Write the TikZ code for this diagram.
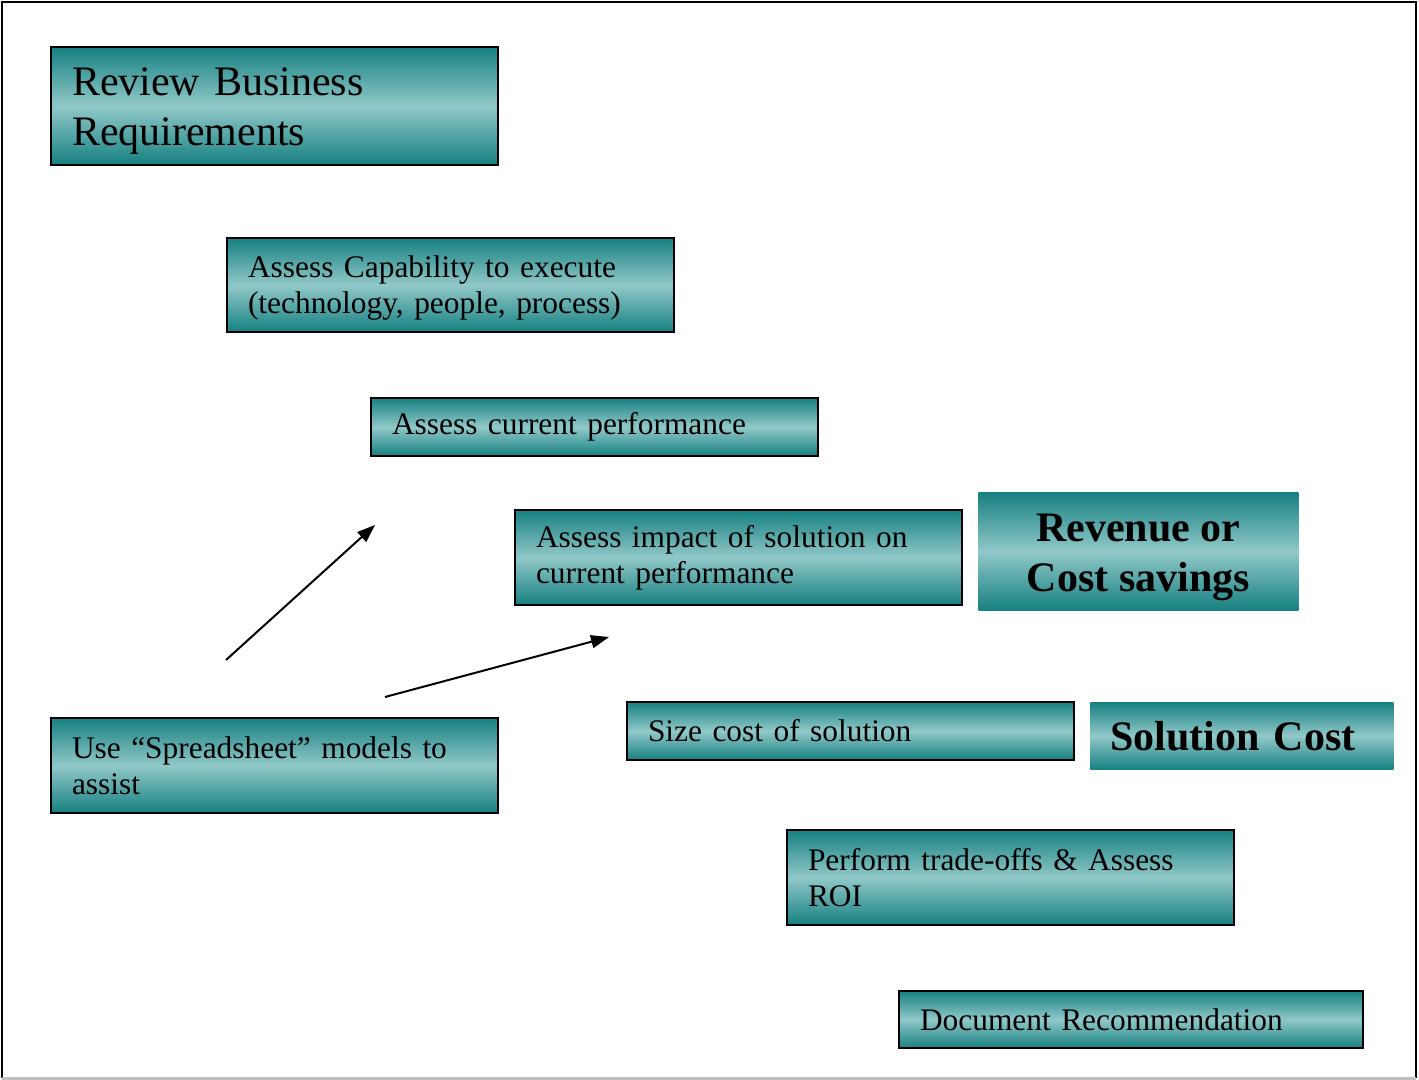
\documentclass[tikz,border=0pt]{standalone}
\usepackage{fontspec}
\setmainfont{Liberation Serif}
\usetikzlibrary{arrows.meta}
\definecolor{myDTeal}{RGB}{22,128,128}
\definecolor{myLTeal}{RGB}{145,200,201}
\newcommand{\lowerby}[1]{\rule{0pt}{#1}}

\tikzset{
  taskbox/.style={draw=black, line width=1pt, anchor=north west,
    top color=myDTeal, bottom color=myDTeal, middle color=myLTeal,
    inner xsep=10.5pt, text width=202.5pt, align=left,
    font=\fontsize{15.7}{18}\selectfont},
  resultbox/.style={anchor=north west,
    top color=myDTeal, bottom color=myDTeal, middle color=myLTeal,
    inner sep=0pt, font=\fontsize{21}{25}\selectfont\bfseries},
  hint/.style={line width=1pt, -{Triangle[length=9pt,width=6.5pt]}}
}

\begin{document}
\begin{tikzpicture}[x=0.5pt, y=-0.5pt]
  \useasboundingbox (0,0) rectangle (1419,1080);
  % Rahmen
  \draw[line width=1pt] (2,1078) -- (2,2) -- (1416,2) -- (1416,1078);
  \draw[line width=1.5pt, gray!50] (2,1078) -- (1416,1078);
  % Schritte
  \node[taskbox, minimum height=59pt, font=\fontsize{21}{25}\selectfont] (review) at (50,46)
    {\lowerby{19pt}Review Business\\Requirements};
  \node[taskbox, minimum height=47pt] (capability) at (226,237)
    {\lowerby{14pt}Assess Capability to execute\\(technology, people, process)};
  \node[taskbox, minimum height=29pt] (current) at (370,397)
    {Assess current performance};
  \node[taskbox, minimum height=47.5pt] (impact) at (514,509)
    {Assess impact of solution on\\current performance};
  \node[taskbox, minimum height=29pt] (size) at (626,701)
    {Size cost of solution};
  \node[taskbox, minimum height=47.5pt] (spreadsheet) at (50,717)
    {Use ``Spreadsheet'' models to\\assist};
  \node[taskbox, minimum height=47.5pt] (tradeoff) at (786,829)
    {Perform trade-offs \& Assess\\ROI};
  \node[taskbox, minimum height=28.5pt, text width=211pt] (document) at (898,990)
    {Document Recommendation};
  % Ergebnisse
  \node[resultbox, align=center, minimum width=160pt, minimum height=59pt] (revenue) at (978,492)
    {\lowerby{20pt}Revenue or\\Cost savings};
  \node[resultbox, align=left, inner xsep=10pt, text width=131.5pt, minimum height=33.5pt] (solcost) at (1090,702)
    {Solution Cost};
  % Pfeile
  \coordinate (a1s) at (226,660);
  \coordinate (a1e) at (375,525);
  \coordinate (a2s) at (385,697);
  \coordinate (a2e) at (609,637);
  \draw[hint] (a1s) -- (a1e);
  \draw[hint] (a2s) -- (a2e);
\end{tikzpicture}
\end{document}
